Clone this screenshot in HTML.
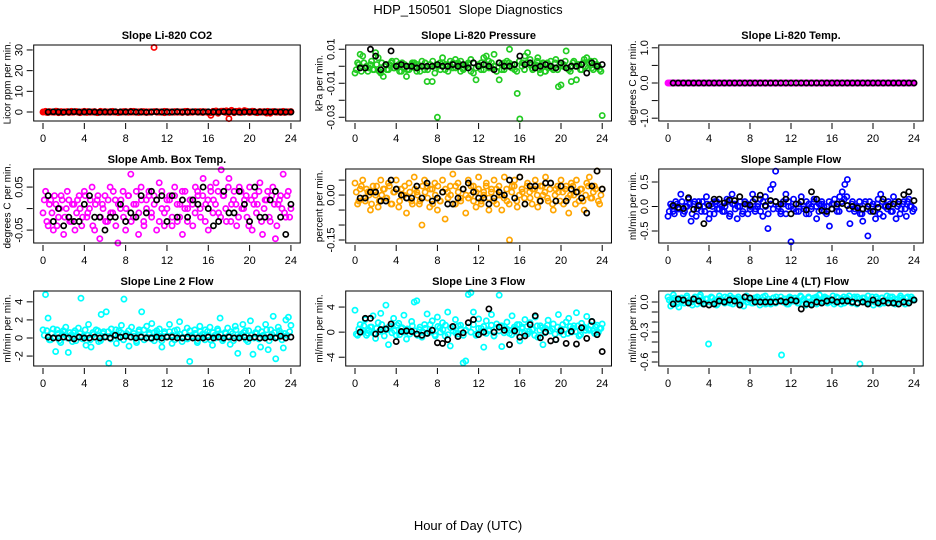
<!DOCTYPE html>
<html><head><meta charset="utf-8"><title>HDP_150501 Slope Diagnostics</title>
<style>
html,body{margin:0;padding:0;background:#fff;}
svg{display:block;font-family:"Liberation Sans",Arial,sans-serif;}
</style></head>
<body>
<svg id="chart" width="936" height="540" viewBox="0 0 936 540">
<rect width="936" height="540" fill="#fff"/>
<text x="468" y="14" text-anchor="middle" font-size="13">HDP_150501&#160; Slope Diagnostics</text>
<text x="468" y="530" text-anchor="middle" font-size="13">Hour of Day (UTC)</text>
</svg>
<script>
// ---------- data ----------
const hourTicks = [0,4,8,12,16,20,24];

const co2Color = [0,0.3,-0.2,0.1,0,0.4,-0.3,0.2,0,0.1,-0.2,0.3,0,0.2,-0.1,0,0.3,-0.2,0.1,0,0.2,-0.3,0.1,0,0.2,0,-0.1,0.3,0,-0.2,0.1,0,0.2,-0.1,0.3,0,0.1,-0.2,0,0.2,0.1,-0.1,0,31.2,0.2,-0.1,0,0.3,0.1,-0.2,0,0.2,-0.1,0.1,0,0.3,-0.2,0,0.1,0.2,-0.1,0,0.2,0.1,-0.3,-1.6,0.2,0.5,-0.2,0.4,0.1,0.6,-3.2,0.8,-0.3,0.2,0.5,0,0.7,0.3,-0.2,0.4,0.1,-0.3,0.2,0,-0.1,0.3,-0.6,0.2,0,0.1,-0.2,0.3,0,0.1,0.2];
const co2Band = [0.1,-0.2,0.2,0,-0.1,0.3,0,-0.2,0.1,0.2,0,-0.1,0.2,0,-0.3,0.1,0,0.2,-0.1,0.1,0,-0.2,0.3,0.1,0,-0.1,0.2,0,0.1,-0.2,0,0.2,0.1,-0.1,0,0.3,-0.1,0.1,0.2,0,-0.2,0.1,0,0.2,-0.1,0,0.1,-0.3,0.2,0,0.1,-0.1,0.2,0,-0.2,0.1,0.3,0,-0.1,0.1,0,0.2,-0.2,0.1,0,-0.4,0.3,0.1,-0.6,0.2,0.4,-0.2,0.1,0.5,-0.1,0.3,0,-0.2,0.2,0.4,-0.1,0,0.3,-0.2,0.1,0,0.2,-0.5,0.1,0,0.2,-0.1,0.1,0,-0.2,0.1,0];
const co2Black = [0,0.1,0,-0.1,0,0.1,0,0,0.1,0,-0.1,0,0,0.1,0,0,0.1,0,0,-0.1,0,0.1,0,0,0,0.1,0,0,0.1,0,0,0.1,0,0,0.1,0,0,-0.1,0,0.1,0,0,0,0,0.1,0,0,0];

const presColor = [-0.004,0.002,0.007,0.006,-0.001,-0.003,0.001,-0.002,0.008,0.005,-0.004,-0.006,0.001,-0.002,0.002,-0.001,0.003,0.001,-0.003,-0.001,-0.006,-0.002,0.001,0.002,-0.003,0,0.003,-0.002,-0.009,0.001,-0.009,-0.004,-0.030,0.002,0.005,-0.002,0.001,0.003,-0.001,0.004,0.002,-0.003,-0.001,0.001,0.002,0.004,-0.004,-0.008,0.001,-0.002,0.005,0.006,-0.001,0.002,0.007,-0.003,-0.008,-0.002,0.002,0.003,0.010,0.001,-0.002,-0.016,-0.031,0.002,0.006,0.008,0.004,-0.002,0.001,0.005,-0.004,0.002,-0.003,-0.001,0.003,-0.002,0.004,-0.012,-0.011,0.001,0.009,-0.002,-0.009,0.003,-0.008,0.001,-0.002,0.004,0.005,0.002,-0.001,0.003,0.001,-0.002,-0.029];
const presBand = [-0.002,0.001,-0.003,0.002,0,-0.001,0.003,-0.002,0.001,-0.003,0.002,0,-0.002,0.001,0.003,-0.001,0,-0.003,0.002,0.001,-0.002,0,0.002,-0.001,0.001,-0.003,0,0.002,-0.002,0.001,0.003,-0.001,0,-0.002,0.002,0.001,-0.003,0,0.002,-0.001,0.001,0.003,-0.002,0,0.001,-0.003,0.002,-0.001,0,0.002,-0.002,0.001,0.003,-0.001,0,-0.003,0.002,0.001,-0.002,0,0.002,-0.001,0.001,-0.003,0.003,0,-0.002,0.002,0.001,-0.001,0,0.003,-0.002,0.001,-0.003,0.002,0,-0.001,0.002,-0.002,0.001,0,0.003,-0.001,-0.003,0.002,0,0.001,-0.002,0.002,0,-0.001,0.003,-0.002,0.001,0,-0.003];
const presBlack = [-0.001,-0.001,0.010,0.006,-0.002,0.001,0.009,0,0.001,0,0,-0.001,0,0,0,0.001,0,0,0.001,0,0.001,-0.001,0.002,0,0.001,0,-0.002,0.002,0,0,0.001,0.006,0.001,0.002,-0.001,0,0.001,0,-0.001,0.002,-0.001,0,0,0.001,-0.004,0.002,0,0.001];

const tempColor = [0,0,0,0,0,0,0,0,0,0,0,0,0,0,0,0,0,0,0,0,0,0,0,0,0,0,0,0,0,0,0,0,0,0,0,0,0,0,0,0,0,0,0,0,0,0,0,0,0,0,0,0,0,0,0,0,0,0,0,0,0,0,0,0,0,0,0,0,0,0,0,0,0,0,0,0,0,0,0,0,0,0,0,0,0,0,0,0,0,0,0,0,0,0,0,0,0];
const tempBand = tempColor;
const tempBlack = [0,0,0,0,0,0,0,0,0,0,0,0,0,0,0,0,0,0,0,0,0,0,0,0,0,0,0,0,0,0,0,0,0,0,0,0,0,0,0,0,0,0,0,0,0,0,0,0];

const ambColor = [-0.01,0.04,-0.04,0.02,-0.05,0.01,-0.02,0.03,-0.06,0.00,0.02,-0.03,0.01,-0.01,0.03,-0.04,0.04,-0.02,0.00,0.05,-0.05,0.02,-0.07,0.01,0.03,-0.03,0.05,-0.01,0.02,-0.08,0.00,0.04,-0.05,0.03,0.08,-0.02,0.01,-0.06,0.05,-0.03,0.02,0.04,-0.01,0.03,-0.05,0.06,0.00,-0.04,0.02,0.03,-0.02,0.05,-0.03,0.01,-0.06,0.04,0.00,0.02,-0.04,0.05,0.03,-0.02,0.07,0.01,-0.05,0.04,0.02,0.06,-0.01,0.09,0.03,-0.03,0.07,0.01,0.04,-0.04,0.05,0.00,0.02,-0.02,0.05,-0.05,0.03,0.01,0.06,-0.06,0.02,0.04,-0.03,0.05,-0.07,0.01,0.03,0.08,-0.02,0.04,0.00];
const ambBand = [0.02,-0.03,0.01,-0.01,0.03,-0.04,0.00,0.02,-0.02,0.04,-0.03,0.01,-0.05,0.02,0.00,-0.02,0.03,-0.01,0.02,-0.04,0.01,0.03,-0.02,0.00,-0.03,0.02,-0.01,0.04,-0.04,0.01,0.02,-0.02,0.00,0.03,-0.03,0.01,0.04,-0.01,0.02,-0.04,0.00,0.03,-0.02,0.01,0.02,-0.03,0.04,-0.01,0.00,0.02,-0.04,0.03,0.01,-0.02,0.04,0.00,-0.03,0.02,0.01,-0.01,0.04,0.00,0.03,-0.03,0.02,0.05,-0.01,0.01,0.04,-0.02,0.03,0.00,0.05,-0.03,0.02,0.01,-0.02,0.04,0.00,0.03,-0.04,0.02,0.01,-0.01,0.04,-0.03,0.00,0.02,-0.02,0.03,0.01,-0.04,0.02,0.00,-0.01,0.03,-0.02];
const ambBlack = [0.03,-0.03,0.00,-0.04,-0.02,-0.03,-0.03,0.01,0.03,-0.02,-0.02,-0.05,-0.02,-0.02,0.01,-0.03,-0.01,-0.02,0.03,-0.01,0.04,0.02,0.03,-0.03,0.03,-0.02,0.02,-0.02,0.02,0.01,0.05,0.00,-0.04,-0.03,0.04,-0.01,-0.01,0.04,0.01,-0.03,0.05,-0.02,-0.02,0.02,0.04,-0.02,-0.06,0.01];

const rhColor = [0.04,-0.03,0.02,0.05,-0.02,0.01,-0.05,0.03,0.00,-0.04,0.05,0.02,-0.01,0.04,-0.03,0.01,0.05,-0.04,0.02,0.00,-0.06,0.04,-0.02,0.06,0.01,-0.03,-0.10,0.05,0.03,-0.04,0.02,0.04,-0.05,-0.02,0.05,-0.08,0.01,0.03,0.07,-0.03,0.04,-0.01,0.02,-0.06,0.05,0.00,0.03,-0.04,0.06,-0.02,0.01,0.04,-0.05,0.02,0.05,-0.03,0.00,-0.05,0.06,-0.02,-0.15,0.03,0.05,-0.04,0.06,0.01,-0.03,0.04,-0.01,0.02,0.05,-0.04,0.03,0.00,0.06,-0.02,0.04,-0.05,0.02,0.01,0.05,-0.03,0.03,-0.06,0.04,0.00,0.05,-0.02,0.02,-0.05,0.04,0.06,-0.01,0.03,0.08,-0.03,0.02];
const rhBand = [0.01,-0.02,0.03,-0.01,0.02,0.00,-0.03,0.01,0.03,-0.02,0.00,0.02,-0.01,0.03,-0.03,0.01,0.02,-0.02,0.00,0.03,-0.01,0.01,-0.03,0.02,0.00,-0.02,0.03,0.01,-0.01,0.02,-0.03,0.00,0.03,-0.02,0.01,0.02,-0.01,0.00,-0.03,0.03,0.01,-0.02,0.02,0.00,-0.01,0.03,-0.02,0.01,0.02,-0.03,0.00,0.03,-0.01,0.01,-0.02,0.02,0.03,0.00,-0.01,0.02,-0.03,0.01,0.03,-0.02,0.00,0.02,-0.01,0.03,0.01,-0.03,0.02,0.00,-0.02,0.03,0.01,-0.01,0.02,-0.03,0.00,0.03,-0.02,0.01,0.02,-0.01,0.00,0.03,-0.03,0.01,0.02,-0.02,0.00,0.03,-0.01,0.01,0.02,-0.02,0.00];
const rhBlack = [-0.01,-0.01,0.01,0.01,-0.02,-0.02,0.05,0.02,0.00,-0.01,-0.01,0.03,-0.01,0.04,-0.02,-0.01,0.01,-0.03,-0.03,-0.01,0.02,0.04,0.01,-0.01,-0.01,-0.03,-0.01,0.01,0.00,0.05,-0.01,0.06,-0.03,0.03,0.03,-0.02,0.04,0.04,-0.02,0.03,-0.02,0.02,0.01,-0.01,-0.06,0.03,0.08,0.02];

const flowColor = [-0.2,0.05,-0.1,0.1,-0.05,0.25,-0.15,0.0,0.15,-0.3,0.05,-0.2,0.1,-0.1,0.0,0.2,-0.25,0.05,-0.15,0.1,-0.05,0.0,-0.1,0.15,-0.2,0.25,0.05,-0.25,0.0,-0.15,0.1,0.05,-0.05,0.25,-0.1,0.0,0.15,-0.2,0.2,-0.45,0.35,0.45,0.72,-0.05,-0.15,0.1,0.25,0.0,-0.72,0.15,-0.1,0.05,0.2,-0.05,0.1,-0.15,0.0,0.15,-0.25,0.05,0.1,-0.1,0.0,-0.4,0.05,0.15,-0.1,0.2,0.3,0.45,0.55,-0.35,0.1,-0.05,0.0,-0.15,-0.3,0.1,-0.6,-0.1,0.05,-0.25,0.15,0.25,-0.2,0.0,0.1,-0.1,0.2,-0.25,0.05,-0.05,0.1,-0.2,0.15,0.0,-0.05];
const flowBand = [-0.1,0.0,-0.15,0.05,-0.05,0.1,-0.1,0.0,0.05,-0.15,0.1,-0.05,0.0,0.1,-0.1,0.05,-0.15,0.0,0.1,-0.05,0.05,-0.1,0.0,0.1,-0.15,0.05,-0.05,0.0,0.1,-0.1,0.05,-0.15,0.0,0.1,-0.05,0.05,-0.1,0.1,0.0,-0.15,0.05,-0.05,0.1,0.0,-0.1,0.05,-0.15,0.1,0.0,-0.05,0.05,-0.1,0.1,0.0,-0.15,0.05,-0.05,0.1,0.0,-0.1,0.05,0.0,-0.15,0.1,-0.05,0.05,0.0,-0.1,0.1,0.15,0.2,-0.05,0.05,-0.1,0.0,0.1,-0.15,0.05,-0.05,0.1,0.0,-0.1,0.05,-0.15,0.1,0.0,-0.05,0.05,-0.1,0.1,0.0,-0.15,0.05,-0.05,0.1,0.0,-0.1];
const flowBlack = [0.02,-0.02,-0.04,0.18,-0.06,0.02,-0.35,0.02,0.15,0.15,0.07,0.13,0.12,0.2,0.05,0.03,0.15,0.23,0.02,0.12,0.1,0.05,0.15,-0.15,0.05,0.1,-0.07,0.3,0.15,-0.08,-0.1,-0.05,0.05,0.06,0.02,0.0,-0.03,-0.05,0.0,-0.1,-0.02,0.15,0.0,0.05,0.1,0.24,0.3,0.12];

const l2Color = [0.9,4.8,2.2,-0.2,1.0,-1.5,0.5,-0.5,0.8,1.2,-1.6,0.3,0.6,-0.3,1.1,4.4,0.2,-0.8,1.5,-1.0,0.4,0.9,-0.4,2.6,0.7,2.9,-2.8,1.0,0.3,-0.6,0.8,1.4,4.3,0.5,-0.9,1.2,0.2,-0.5,0.9,2.9,-0.2,1.3,0.6,1.6,-0.3,0.4,1.0,-1.0,0.7,0.2,1.5,-0.6,0.8,0.3,1.8,-0.4,0.6,1.1,-2.6,0.2,0.9,-0.5,1.3,0.4,-0.2,0.7,1.2,-0.8,0.3,1.0,2.2,-0.3,0.6,1.1,-0.7,0.5,1.3,-1.7,0.2,1.5,0.8,-0.4,1.9,-1.8,0.6,1.0,-1.0,0.3,1.5,-1.3,0.9,2.4,-2.3,1.2,0.5,-1.1,2.0,2.3,1.4];
const l2Band = [0.3,0.8,-0.2,0.5,0.1,0.9,-0.3,0.4,0.7,0.0,0.6,-0.4,0.8,0.2,0.5,-0.1,0.9,0.3,-0.2,0.6,0.1,0.8,-0.3,0.5,0.2,0.7,-0.1,0.4,0.9,0.0,0.6,-0.2,0.3,0.8,0.1,0.5,-0.3,0.7,0.2,0.9,0.0,0.4,-0.1,0.6,0.8,0.2,-0.3,0.5,0.1,0.7,0.3,-0.2,0.9,0.4,0.0,0.6,-0.1,0.8,0.2,0.5,-0.3,0.7,0.1,0.9,0.3,-0.2,0.6,0.0,0.8,0.4,-0.1,0.5,0.2,0.7,-0.3,0.9,0.1,0.4,0.6,-0.2,0.8,0.3,0.0,0.5,-0.1,0.7,0.2,0.9,-0.3,0.4,0.6,0.1,0.8,-0.2,0.5,0.3,0.7];
const l2Black = [0.1,0.0,0.0,0.1,0.0,-0.1,0.1,0.0,0.0,0.1,0.0,0.1,0.0,0.3,0.1,0.2,0.1,0.0,0.1,0.0,0.0,0.1,0.0,0.1,0.1,0.0,0.0,0.1,0.0,0.0,0.0,0.1,0.0,0.1,0.0,0.1,0.0,0.0,0.1,0.0,0.1,0.0,0.0,0.1,0.0,0.2,0.0,0.1];

const l3Color = [3.5,-0.5,1.2,0.3,2.0,-0.2,0.8,2.6,-1.0,1.5,3.0,0.2,4.3,-2.0,0.9,2.2,-0.5,1.4,0.6,2.7,-1.1,0.3,1.7,4.8,5.0,0.4,-0.8,1.2,2.9,0.0,1.8,-0.4,2.4,0.7,1.5,-0.6,3.2,-2.2,0.8,2.0,-0.3,1.1,-4.9,-4.6,6.0,6.3,3.2,-0.5,2.1,0.6,-2.4,1.8,0.2,2.8,-0.6,1.3,5.9,-2.3,0.9,1.6,-0.2,2.6,0.5,1.2,-1.4,0.8,2.0,-0.3,1.5,0.4,2.4,-0.8,1.0,-2.0,0.6,1.9,0.2,1.3,-1.2,2.8,0.5,-0.4,1.6,2.2,0.0,1.0,3.1,-0.6,1.4,0.8,2.5,0.3,1.7,-0.2,1.1,0.6,1.3];
const l3Band = [-0.3,0.5,0.0,1.0,-0.5,0.3,0.8,-0.2,0.6,0.1,1.2,-0.6,0.4,0.9,-0.1,0.2,1.1,-0.4,0.7,0.0,0.5,-0.3,1.0,0.2,-0.5,0.8,0.1,0.6,-0.2,1.2,0.3,-0.6,0.9,0.0,0.4,1.1,-0.4,0.7,0.2,-0.1,1.0,0.5,-0.5,0.3,0.8,0.0,1.2,-0.3,0.6,0.1,0.9,-0.2,0.4,1.1,-0.6,0.7,0.2,1.0,-0.1,0.5,0.3,-0.4,0.8,0.0,1.2,0.6,-0.2,0.9,0.1,0.4,-0.5,1.0,0.3,0.7,-0.1,1.1,0.2,0.5,-0.3,0.8,0.0,1.2,0.4,-0.2,0.9,0.6,0.1,1.0,-0.4,0.7,0.3,0.5,1.1,0.2,0.8,0.0,0.6];
const l3Black = [0.0,2.2,2.2,-0.3,0.4,0.5,1.3,-1.5,0.1,0.2,0.1,-0.3,-0.5,-0.2,0.3,-1.7,-1.8,-1.2,0.9,-0.7,-0.1,1.5,2.0,-0.4,0.0,3.7,0.0,0.8,0.3,-2.0,0.2,-0.8,-0.6,1.2,2.6,-0.9,0.0,-1.4,-1.2,0.2,-1.8,0.1,-1.9,0.7,-1.0,1.7,-0.4,-3.1];

const l4Color = [0.05,-0.04,0.07,0.02,-0.05,0.04,-0.01,0.06,0.0,-0.03,0.05,0.02,0.07,-0.02,0.03,-0.42,0.05,0.0,-0.03,0.06,0.02,-0.01,0.04,0.06,-0.02,0.03,0.05,0.0,-0.04,0.06,0.02,-0.01,0.04,0.05,-0.03,0.02,0.06,0.0,-0.02,0.04,0.05,0.01,-0.53,0.03,-0.02,0.05,0.01,0.04,-0.01,0.06,0.02,-0.03,0.05,0.0,0.04,-0.02,0.07,0.01,0.05,-0.01,0.03,0.06,0.0,0.04,-0.02,0.05,0.02,0.06,-0.01,0.03,0.05,-0.62,0.04,0.0,0.06,0.02,-0.03,0.05,0.01,0.04,-0.01,0.06,0.02,0.05,-0.02,0.03,0.06,0.0,0.04,-0.01,0.05,0.02];
const l4Band = [0.02,0.0,0.04,-0.02,0.03,0.01,-0.01,0.04,0.02,0.0,0.03,-0.02,0.05,0.01,-0.01,0.03,0.0,0.04,0.02,-0.02,0.03,0.01,0.05,0.0,-0.01,0.04,0.02,0.03,-0.02,0.01,0.05,0.0,0.03,-0.01,0.04,0.02,0.0,0.05,-0.02,0.03,0.01,0.04,-0.01,0.02,0.05,0.0,0.03,-0.02,0.04,0.01,0.02,-0.01,0.05,0.03,0.0,0.04,-0.02,0.02,0.05,0.01,-0.01,0.03,0.04,0.0,0.02,-0.02,0.05,0.01,0.03,-0.01,0.04,0.02,0.0,0.05,-0.02,0.03,0.01,0.04,-0.01,0.02,0.05,0.0,0.03,-0.02,0.04,0.01,0.02,0.05,-0.01,0.03,0.0,0.04,0.02,-0.02,0.05,0.01,0.03];
const l4Black = [-0.02,0.03,0.02,-0.01,0.03,0.01,-0.02,-0.03,-0.02,0.01,0.0,0.02,0.01,-0.03,0.05,0.04,0.0,0.0,0.0,0.0,0.0,0.01,0.0,0.02,0.01,-0.07,-0.02,-0.03,0.0,-0.01,0.01,0.02,0.0,0.01,0.01,0.0,-0.01,0.0,-0.02,0.02,-0.01,0.01,-0.01,-0.01,-0.02,0.0,-0.01,0.02];

// ---------- layout ----------
const cols = [{x0:43,s:10.33},{x0:355,s:10.3},{x0:668,s:10.25}];
const rows = [{top:45,bot:121},{top:169,bot:243},{top:291,bot:366}];
const panels = [
 {name:'co2',title:'Slope Li-820 CO2',ylab:'Licor ppm per min.',c:0,r:0,ylim:[-4.35,32.4],ticks:[0,10,20,30],labs:['0','10','20','30'],col:'#ff0000',cd:co2Color,bb:co2Band,bd:co2Black},
 {name:'pressure',title:'Slope Li-820 Pressure',ylab:'kPa per min.',c:1,r:0,ylim:[-0.0322,0.0125],ticks:[0.01,0,-0.01,-0.02,-0.03],labs:['0.01','','-0.01','','-0.03'],col:'#22cc22',cd:presColor,bb:presBand,bd:presBlack},
 {name:'temp',title:'Slope Li-820 Temp.',ylab:'degrees C per min.',c:2,r:0,ylim:[-1.08,1.08],ticks:[1,0.5,0,-0.5,-1],labs:['1.0','','0.0','','-1.0'],col:'#ff00ff',cd:tempColor,bb:tempBand,bd:tempBlack},
 {name:'ambbox',title:'Slope Amb. Box Temp.',ylab:'degrees C per min.',c:0,r:1,ylim:[-0.08,0.092],ticks:[0.05,0,-0.05],labs:['0.05','','-0.05'],col:'#ff00ff',cd:ambColor,bb:ambBand,bd:ambBlack},
 {name:'rh',title:'Slope Gas Stream RH',ylab:'percent per min.',c:1,r:1,ylim:[-0.16,0.087],ticks:[0.05,0,-0.05,-0.1,-0.15],labs:['','0.00','','','-0.15'],col:'#ffa500',cd:rhColor,bb:rhBand,bd:rhBlack},
 {name:'sampleflow',title:'Slope Sample Flow',ylab:'ml/min per min.',c:2,r:1,ylim:[-0.745,0.765],ticks:[0.5,0,-0.5],labs:['0.5','0.0','-0.5'],col:'#0000ff',cd:flowColor,bb:flowBand,bd:flowBlack},
 {name:'line2',title:'Slope Line 2 Flow',ylab:'ml/min per min.',c:0,r:2,ylim:[-3.1,5.2],ticks:[4,2,0,-2],labs:['4','2','0','-2'],col:'#00ffff',cd:l2Color,bb:l2Band,bd:l2Black},
 {name:'line3',title:'Slope Line 3 Flow',ylab:'ml/min per min.',c:1,r:2,ylim:[-5.4,6.56],ticks:[4,0,-4],labs:['4','0','-4'],col:'#00ffff',cd:l3Color,bb:l3Band,bd:l3Black},
 {name:'line4',title:'Slope Line 4 (LT) Flow',ylab:'ml/min per min.',c:2,r:2,ylim:[-0.64,0.11],ticks:[0,-0.1,-0.2,-0.3,-0.4,-0.5,-0.6],labs:['0.0','','','-0.3','','','-0.6'],col:'#00ffff',cd:l4Color,bb:l4Band,bd:l4Black}
];

const NS='http://www.w3.org/2000/svg';
const svg=document.getElementById('chart');
function mk(tag,attrs,parent){const e=document.createElementNS(NS,tag);for(const k in attrs)e.setAttribute(k,attrs[k]);(parent||svg).appendChild(e);return e;}

panels.forEach(p=>{
  const C=cols[p.c],R=rows[p.r];
  const xs=h=>C.x0+h*C.s;
  const ys=v=>R.bot-(v-p.ylim[0])/(p.ylim[1]-p.ylim[0])*(R.bot-R.top);
  const left=xs(-0.9),right=xs(24.9);
  const g=mk('g',{});
  
  
  const t=mk('text',{x:(left+right)/2,y:R.top-6,'text-anchor':'middle','font-size':11,'font-weight':'bold'},g);
  t.textContent=p.title;
  
  
  const pg=mk('g',{fill:'none','stroke-width':1.7},g);
  
  
  p.bb.forEach((v,i)=>{
    const h=(i+0.5)*24/(p.bb.length);
    const c=mk('circle',{cx:xs(h),cy:ys(v),r:2.6,stroke:p.col},pg);
    
    
  });
  p.cd.forEach((v,i)=>{
    const h=i*24/(p.cd.length-1);
    const c=mk('circle',{cx:xs(h),cy:ys(v),r:2.6,stroke:p.col},pg);
    
    
  });
  const bg=mk('g',{fill:'none','stroke-width':1.7},g);
  
  
  p.bd.forEach((v,i)=>{
    const h=0.5+i*23.5/(p.bd.length-1);
    const c=mk('circle',{cx:xs(h),cy:ys(v),r:2.6,stroke:'#000'},bg);
    
    
  });
  const b=mk('rect',{x:left,y:R.top,width:right-left,height:R.bot-R.top,fill:'none',stroke:'#000','stroke-width':1},g);
  
  
  const xg=mk('g',{},g);
  
  
  hourTicks.forEach(h=>{
    mk('line',{x1:xs(h),x2:xs(h),y1:R.bot+2,y2:R.bot+8,stroke:'#000'},xg);
    const tl=mk('text',{x:xs(h),y:R.bot+21,'text-anchor':'middle','font-size':11},xg);
    tl.textContent=String(h);
  });
  const yg=mk('g',{},g);
  
  
  p.ticks.forEach((v,i)=>{
    const y=ys(v);
    mk('line',{x1:left-1,x2:left-7,y1:y,y2:y,stroke:'#000'},yg);
    if(p.labs[i]){
      const tl=mk('text',{x:0,y:0,'text-anchor':'middle','font-size':11,transform:`translate(${left-11},${y}) rotate(-90)`},yg);
      tl.textContent=p.labs[i];
    }
  });
  const yt=mk('text',{x:0,y:0,'text-anchor':'middle','font-size':10,transform:`translate(${left-23},${(R.top+R.bot)/2}) rotate(-90)`},g);
  yt.textContent=p.ylab;
  
  
});
</script>
</body></html>
